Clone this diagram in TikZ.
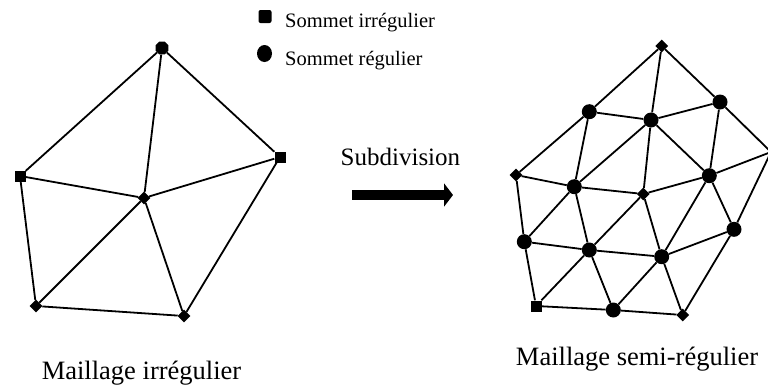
\documentclass[tikz,border=0pt]{standalone}
\usepackage{fontspec}
\setmainfont{Liberation Serif}
\usetikzlibrary{shapes.geometric,arrows.meta}
\begin{document}
\begin{tikzpicture}[x=1bp,y=-1bp,
  edge/.style={line width=1.8bp},
  dia/.style={diamond,fill=black,inner sep=0pt,minimum size=13bp},
  sq/.style={rectangle,fill=black,inner sep=0pt,minimum size=11bp},
  oct/.style={regular polygon,regular polygon sides=8,fill=black,inner sep=0pt,minimum size=14bp},
  reg/.style={circle,fill=black,inner sep=0pt,minimum size=15bp},
  pt/.style={inner sep=0pt,minimum size=0pt},
  lbl/.style={inner sep=0pt,font=\fontsize{26.5bp}{30bp}\selectfont},
  sub/.style={inner sep=0pt,font=\fontsize{25bp}{29bp}\selectfont},
  leg/.style={inner sep=0pt,font=\fontsize{20.5bp}{24bp}\selectfont},
  bigarrow/.style={line width=10bp,-{Triangle[length=9bp,width=23bp]}}]
\clip (0,0) rectangle (768,389);
% ---------- left mesh (irregular) ----------
\node[oct] (T) at (162,48) {};
\node[sq] (R) at (280,157) {};
\node[sq] (L) at (20,176) {};
\node[dia] (C) at (144,198) {};
\node[dia] (BL) at (36,306) {};
\node[dia] (BR) at (184,316) {};
\draw[edge] (T) -- (L) (T) -- (C) (T) -- (R) (L) -- (C) (C) -- (R)
  (L) -- (BL) (BL) -- (C) (C) -- (BR) (R) -- (BR) (BL) -- (BR);
% ---------- right mesh (semi-regular) ----------
\node[dia] (A) at (661.7,46) {};
\node[reg] (B) at (720,102) {};
\node[pt] (RR) at (771,152) {};
\node[reg] (D) at (589.3,111.7) {};
\node[reg] (E) at (651,120) {};
\node[dia] (F) at (516,175) {};
\node[reg] (G) at (574.3,186.7) {};
\node[dia] (H) at (643.3,194) {};
\node[reg] (I) at (709.3,175.7) {};
\node[reg] (J) at (524.3,241.7) {};
\node[reg] (K) at (589.3,250) {};
\node[reg] (Lr) at (661.7,256.7) {};
\node[reg] (M) at (734,229.3) {};
\node[sq] (N) at (536,306) {};
\node[reg] (O) at (613.3,310) {};
\node[dia] (P) at (682.7,315) {};
\draw[edge] (A) -- (D) (D) -- (F) (A) -- (E) (E) -- (H) (A) -- (B) (B) -- (RR)
  (F) -- (G) (G) -- (H) (H) -- (I) (I) -- (RR) (F) -- (J) (J) -- (N)
  (N) -- (K) (K) -- (H) (H) -- (Lr) (Lr) -- (P) (RR) -- (M) (M) -- (P)
  (N) -- (O) (O) -- (P)
  (D) -- (E) (D) -- (G) (E) -- (G)
  (E) -- (B) (E) -- (I) (B) -- (I)
  (J) -- (G) (J) -- (K) (G) -- (K)
  (K) -- (Lr) (K) -- (O) (Lr) -- (O)
  (I) -- (M) (I) -- (Lr) (M) -- (Lr);
% ---------- arrow ----------
\coordinate (as) at (352,195);
\coordinate (ae) at (453,195);
\draw[bigarrow] (as) -- (ae);
\node[sub,anchor=base west] (subd) at (340.5,165) {Subdivision};
% ---------- legend ----------
\node[rectangle,rounded corners=2bp,fill=black,inner sep=0pt,minimum size=13bp] (lsq) at (265,16.5) {};
\node[ellipse,fill=black,inner sep=0pt,minimum width=15bp,minimum height=17bp] (lci) at (264.5,53.5) {};
\node[leg,anchor=base west] (t1) at (285,27) {Sommet irrégulier};
\node[leg,anchor=base west] (t2) at (285,65) {Sommet régulier};
% ---------- captions ----------
\node[lbl,anchor=base] (c1) at (141.5,379) {Maillage irrégulier};
\node[lbl,anchor=base] (c2) at (637,365) {Maillage semi-régulier};
\end{tikzpicture}
\end{document}
